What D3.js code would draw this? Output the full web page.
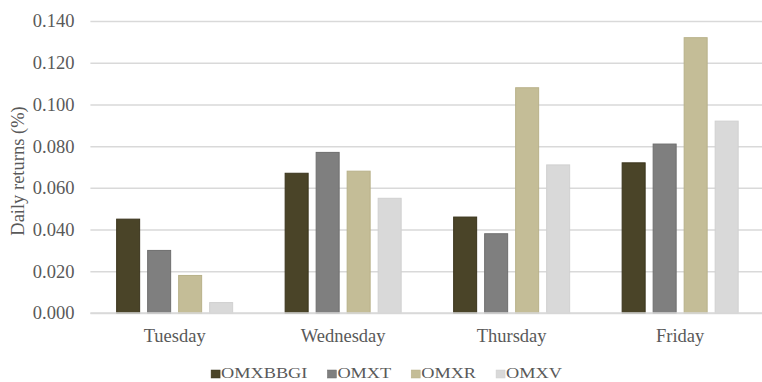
<!DOCTYPE html>
<html>
<head>
<meta charset="utf-8">
<script src="https://cdn.jsdelivr.net/npm/d3@7/dist/d3.min.js"></script>
<style>
  html, body { margin: 0; padding: 0; background: #fff; }
  svg { display: block; }
  text { font-family: "Liberation Serif", "Times New Roman", serif; fill: #595959; }
</style>
</head>
<body>
<svg id="chart" width="762" height="382"></svg>
<script>
// Days of the week on the x axis
const days = ["Tuesday", "Wednesday", "Thursday", "Friday"];
// Index names, in legend order
const indices = ["OMXBBGI", "OMXT", "OMXR", "OMXV"];
// Mean daily returns (%) per index, one value per day
const omxbbgi = [0.045, 0.067, 0.046, 0.072];
const omxt    = [0.030, 0.077, 0.038, 0.081];
const omxr    = [0.018, 0.068, 0.108, 0.132];
const omxv    = [0.005, 0.055, 0.071, 0.092];
// Y axis ticks
const yTicks = [0, 0.02, 0.04, 0.06, 0.08, 0.10, 0.12, 0.14];

const seriesValues = [omxbbgi, omxt, omxr, omxv];
const fills   = ["#4a4428", "#7f7f7f", "#c4bd97", "#d9d9d9"];
const strokes = ["#3a341c", "#6e6e6e", "#b8b189", "#d0d0d0"];

const svg = d3.select("#chart");
const plot = { left: 90.4, right: 764.4, top: 21, bottom: 313 };

const x0 = d3.scaleBand().domain(days).range([plot.left, plot.right]).padding(0);
const groupW = 117;
const groupOff = (x0.bandwidth() - groupW) / 2;
const x1 = d3.scaleBand().domain(indices).range([groupOff, groupOff + groupW])
  .paddingInner(0.226).paddingOuter(0);
const y = d3.scaleLinear().domain([0, 0.14]).range([plot.bottom, plot.top]);

// Horizontal gridlines with tick labels
const yAxis = d3.axisLeft(y).tickValues(yTicks).tickFormat(d3.format(".3f"))
  .tickSize(-(plot.right - plot.left)).tickPadding(16);
const gy = svg.append("g").attr("transform", `translate(${plot.left},0)`).call(yAxis);
gy.select(".domain").remove();
gy.selectAll(".tick line").attr("stroke", "#d9d9d9").attr("stroke-width", 1.5);
gy.selectAll(".tick text").attr("font-size", "18.5px").attr("fill", "#595959")
  .attr("font-family", "Liberation Serif, serif");

// Bars
const rows = days.map((d, i) => ({ day: d, vals: indices.map((k, j) => ({ key: k, j, v: seriesValues[j][i] })) }));
const groups = svg.append("g").selectAll("g").data(rows).join("g")
  .attr("transform", d => `translate(${x0(d.day)},0)`);
groups.selectAll("rect").data(d => d.vals).join("rect")
  .attr("x", d => x1(d.key) + 0.5)
  .attr("width", x1.bandwidth() - 1)
  .attr("y", d => y(d.v))
  .attr("height", d => y(0) - y(d.v))
  .attr("fill", d => fills[d.j])
  .attr("stroke", d => strokes[d.j])
  .attr("stroke-width", 1);

// Baseline
svg.append("line").attr("x1", plot.left).attr("x2", plot.right)
  .attr("y1", y(0)).attr("y2", y(0)).attr("stroke", "#d9d9d9").attr("stroke-width", 1.5);

// Category labels
const xAxis = d3.axisBottom(x0).tickSize(0).tickPadding(16);
const gx = svg.append("g").attr("transform", `translate(0,${plot.bottom})`).call(xAxis);
gx.select(".domain").remove();
gx.selectAll(".tick text").attr("font-size", "18.5px").attr("fill", "#595959")
  .attr("font-family", "Liberation Serif, serif");

// Y axis title
svg.append("text")
  .attr("transform", `translate(24,${(plot.top + plot.bottom) / 2 + 4}) rotate(-90)`)
  .attr("text-anchor", "middle")
  .attr("font-size", "18.5px")
  .text("Daily returns (%)");

// Legend: wide, short lettering
const stretch = 1.18;
const legend = svg.append("g");
let lx = 0;
indices.forEach((k, j) => {
  const item = legend.append("g").attr("transform", `translate(${lx},0)`);
  item.append("rect").attr("x", 0).attr("y", -8).attr("width", 9).attr("height", 8)
    .attr("fill", fills[j]).attr("stroke", strokes[j]).attr("stroke-width", 0.5);
  const t = item.append("text").attr("transform", `translate(10,0) scale(${stretch},1)`)
    .attr("font-size", "15.5px").text(k);
  lx += 10 + t.node().getComputedTextLength() * stretch + 20;
});
const legendW = lx - 20;
legend.attr("transform", `translate(${386.5 - legendW / 2},378)`);
</script>
</body>
</html>
